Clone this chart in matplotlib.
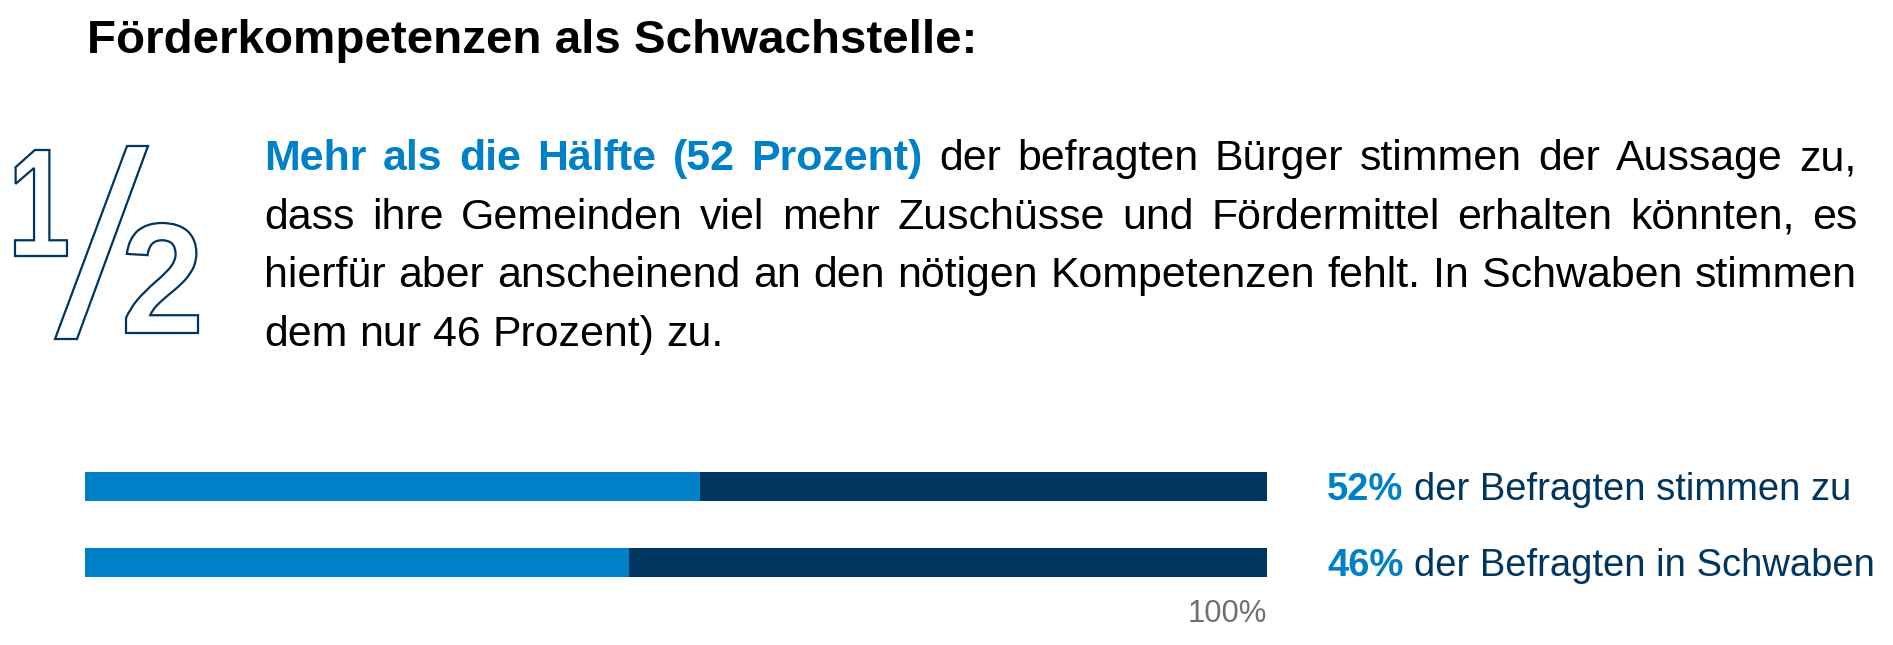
#coding=utf-8
# Förderkompetenzen: Textblock mit "1/2" und zwei Balken (52 % / 46 %)
import matplotlib
matplotlib.use('Agg')
import matplotlib.pyplot as plt
from matplotlib.textpath import TextPath
from matplotlib.patches import PathPatch, Polygon
from matplotlib.font_manager import FontProperties
from matplotlib.transforms import Affine2D

plt.rcParams['font.family'] = ['Liberation Sans', 'DejaVu Sans']

BLUE = '#0080C6'
NAVY = '#00355F'
GREY = '#707070'

# Daten
title = 'Förderkompetenzen als Schwachstelle:'
intro_bold = 'Mehr als die Hälfte (52 Prozent)'
lines = [
    'Mehr als die Hälfte (52 Prozent) der befragten Bürger stimmen der Aussage zu,',
    'dass ihre Gemeinden viel mehr Zuschüsse und Fördermittel erhalten könnten, es',
    'hierfür aber anscheinend an den nötigen Kompetenzen fehlt. In Schwaben stimmen',
    'dem nur 46 Prozent) zu.',
]
values = [52, 46]
total = 100
value_labels = ['52%', '46%']
label_texts = ['der Befragten stimmen zu', 'der Befragten in Schwaben']
scale_label = '100%'

W, H = 1893, 645
fig = plt.figure(figsize=(W / 100, H / 100), dpi=100)
ov = fig.add_axes([0, 0, 1, 1])
ov.set_xlim(0, W)
ov.set_ylim(H, 0)
ov.axis('off')
r = fig.canvas.get_renderer()


def width(t):
    return t.get_window_extent(renderer=r).width


def put(x, y, s, **kw):
    return ov.text(x, y, s, ha='left', va='baseline', **kw)


# Titel
t = put(87, 53, title, fontsize=32, fontweight='bold', color='black')
t.set_fontsize(32 * 891 / width(t))

# Textblock, Blocksatz
x0, x1 = 264, 1857
p = put(0, -100, lines[2], fontsize=29)
body_fs = 29 * (x1 - x0) / width(p) * 0.995
p.remove()

n_bold = len(intro_bold.split(' '))
probe = put(0, -100, 'a a', fontsize=body_fs)
probe2 = put(0, -100, 'aa', fontsize=body_fs)
space = width(probe) - width(probe2)
probe.remove()
probe2.remove()

for i, line in enumerate(lines):
    y = 170 + 58.7 * i
    words = line.split(' ')
    arts = []
    for j, w in enumerate(words):
        if i == 0 and j < n_bold:
            a = put(0, y, w, fontsize=body_fs, fontweight='bold', color=BLUE)
        else:
            a = put(0, y, w, fontsize=body_fs, color='black')
        arts.append(a)
    ws = [width(a) for a in arts]
    if i < len(lines) - 1:
        gap = (x1 - x0 - sum(ws)) / (len(ws) - 1)
    else:
        gap = space
    x = x0
    for a, w in zip(arts, ws):
        a.set_x(x)
        x += w + gap

# "1/2" als Konturziffern
fp = FontProperties(family='Liberation Sans', weight='bold')


def glyph(ch, gx0, gx1, gy0, gy1):
    gp = TextPath((0, 0), ch, size=100, prop=fp)
    ext = gp.get_extents()
    tr = (Affine2D().translate(-ext.x0, -ext.y0)
          .scale((gx1 - gx0) / ext.width, -(gy1 - gy0) / ext.height)
          .translate(gx0, gy1))
    ov.add_patch(PathPatch(tr.transform_path(gp), fc='none', ec=NAVY, lw=1.6))


glyph('1', 15, 67, 150, 256)
glyph('2', 126, 198, 223, 333)
ov.add_patch(Polygon([(55, 339), (77, 339), (148, 146), (127, 146)],
                     closed=True, fc='none', ec=NAVY, lw=1.6))

# Balken
bx = fig.add_axes([85 / W, 1 - 600.5 / H, (1267 - 85) / W, 152 / H])
ypos = list(range(len(values)))
bx.barh(ypos, [total] * len(values), height=0.38, color=NAVY)
bx.barh(ypos, values, height=0.38, color=BLUE)
bx.set_xlim(0, total)
bx.set_ylim(1.5, -0.5)
bx.axis('off')

# Beschriftungen rechts
lab_fs = 22
a1 = put(0, -100, value_labels[0], fontsize=lab_fs, fontweight='bold')
a2 = put(0, -100, label_texts[0], fontsize=lab_fs)
lab_fs = lab_fs * (522 - 10) / (width(a1) + width(a2))
a1.remove()
a2.remove()
lab_gap = lab_fs * 0.4

for i, (v, s) in enumerate(zip(value_labels, label_texts)):
    dx, dy = bx.transData.transform((total, i))
    lx = dx + 60
    ly = H - dy + 0.36 * lab_fs * 100 / 72
    a1 = put(lx, ly, v, fontsize=lab_fs, fontweight='bold', color=BLUE)
    put(lx + width(a1) + lab_gap, ly, s, fontsize=lab_fs, color=NAVY)

dx, dy = bx.transData.transform((total, 0))
s = ov.text(dx, 622, scale_label, ha='right', va='baseline', fontsize=21, color=GREY)
s.set_fontsize(21 * 79 / width(s))

fig.savefig('out.png', dpi=100)
